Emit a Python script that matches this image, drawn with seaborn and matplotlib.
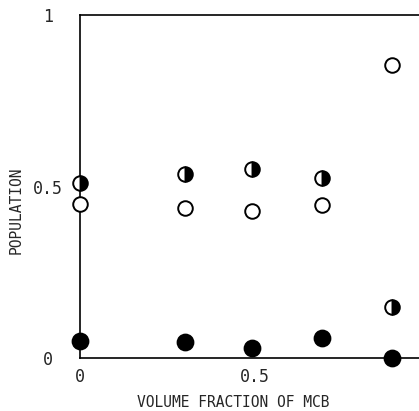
import numpy as np
import pandas as pd
import seaborn as sns
import matplotlib.pyplot as plt

# fracao de volume de MCB e populacoes
fracao = [0, 0.3, 0.49, 0.69, 0.89]
pop_meio = [0.51, 0.535, 0.55, 0.525, 0.15]
pop_aberto = [0.45, 0.436, 0.428, 0.446, 0.855]
pop_cheio = [0.05, 0.047, 0.029, 0.058, 0.0]

xticks = [0, 0.5, 1]
xtick_labels = ['0', '0.5', '1']
yticks = [0, 0.5, 1]
ytick_labels = ['0', '0.5', '1']

sns.set_style('white')
plt.rcParams['font.family'] = ['DejaVu Sans Mono']

fig = plt.figure(figsize=(4.19, 4.11), dpi=100)
ax = fig.add_axes([80 / 419, 1 - 358 / 411, 350 / 419, 343 / 411])

df = pd.DataFrame({'x': fracao, 'meio': pop_meio, 'aberto': pop_aberto, 'cheio': pop_cheio})

sns.scatterplot(data=df, x='x', y='aberto', ax=ax, marker='o', s=110,
                facecolor='white', edgecolor='black', linewidth=1.4, zorder=3, clip_on=False)
sns.scatterplot(data=df, x='x', y='cheio', ax=ax, marker='o', s=130,
                color='black', edgecolor='black', linewidth=1.4, zorder=3, clip_on=False)
sns.lineplot(data=df, x='x', y='meio', ax=ax, marker='o', markersize=10.5, linestyle='',
             color='black', fillstyle='right', markerfacecolor='black',
             markerfacecoloralt='white', markeredgecolor='black', markeredgewidth=1.4,
             zorder=3, clip_on=False)

ax.set_xlim(0, 1)
ax.set_ylim(0, 1)
ax.set_xticks(xticks)
ax.set_xticklabels(xtick_labels)
ax.set_yticks(yticks)
ax.set_yticklabels(ytick_labels, ha='center')
ax.tick_params(axis='x', length=0, pad=7, labelsize=12)
ax.tick_params(axis='y', length=0, pad=23, labelsize=12)

for lado in ['left', 'top', 'bottom', 'right']:
    ax.spines[lado].set_color('black')
    ax.spines[lado].set_linewidth(1.2)

ax.set_xlabel('VOLUME FRACTION OF MCB', fontsize=10.5)
ax.set_ylabel('POPULATION', fontsize=10.5)
ax.xaxis.set_label_coords(0.437, -0.108)
ax.yaxis.set_label_coords(-0.16, 0.43)

fig.savefig('out.png', dpi=100)
